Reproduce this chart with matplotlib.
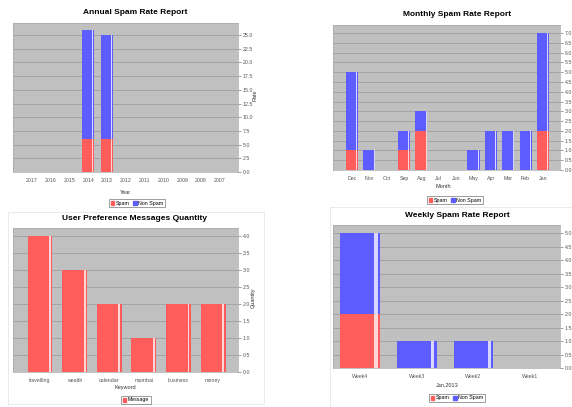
import matplotlib
matplotlib.use("Agg")
import matplotlib.pyplot as plt
from matplotlib.patches import Patch, Rectangle

plt.rcParams['font.family'] = ['Liberation Sans', 'DejaVu Sans']

W, H = 572, 407
RED = '#ff5c5c'
BLUE = '#5c5cff'
RED_LIGHT = '#ffd6d6'
BLUE_LIGHT = '#d6d6ff'

# annual report
years = ['2007', '2008', '2009', '2010', '2011', '2012', '2013', '2014', '2015', '2016', '2017']
annual_spam = [0, 0, 0, 0, 0, 0, 6, 6, 0, 0, 0]
annual_nonspam = [0, 0, 0, 0, 0, 0, 19, 20, 0, 0, 0]

# monthly report
months = ['Jan', 'Feb', 'Mar', 'Apr', 'May', 'Jun', 'Jul', 'Aug', 'Sep', 'Oct', 'Nov', 'Dec']
monthly_spam = [2, 0, 0, 0, 0, 0, 0, 2, 1, 0, 0, 1]
monthly_nonspam = [5, 2, 2, 2, 1, 0, 0, 1, 1, 0, 1, 4]

# weekly report
weeks = ['Week1', 'Week2', 'Week3', 'Week4']
weekly_spam = [0, 0, 0, 2]
weekly_nonspam = [0, 1, 1, 3]

# user preference
keywords = ['money', 'business', 'mumbai', 'calendar', 'wealth', 'travelling']
keyword_counts = [2, 2, 1, 2, 3, 4]

fig = plt.figure(figsize=(W / 100, H / 100), dpi=100)


def px_axes(l, t, r, b):
    ax = fig.add_axes([l / W, 1 - b / H, (r - l) / W, (b - t) / H])
    ax.set_facecolor('#c0c0c0')
    ax.yaxis.tick_right()
    ax.yaxis.set_label_position('right')
    ax.tick_params(axis='both', labelsize=3.8, colors='#555555', length=2, width=0.4, pad=1.5)
    ax.tick_params(axis='x', length=0, pad=4)
    ax.grid(axis='y', color='#999999', lw=0.5)
    ax.set_axisbelow(True)
    for s in ax.spines.values():
        s.set_color('#a8a8a8')
        s.set_linewidth(0.5)
    return ax


def stacked(ax, cats, layers, colors, lights, width, xlim, ylim, step):
    x = list(range(len(cats)))
    bottom = [0] * len(cats)
    for vals, c, lc in zip(layers, colors, lights):
        ax.bar(x, vals, width=width, bottom=bottom, color=c, zorder=2)
        for xi, v, b0 in zip(x, vals, bottom):
            if v > 0:
                ax.bar(xi - width / 2 + 0.07, v, width=0.055, bottom=b0, color=lc, zorder=3)
        bottom = [b0 + v for b0, v in zip(bottom, vals)]
    ax.set_xticks(x)
    ax.set_xticklabels(cats)
    ax.set_xlim(*xlim)
    ax.set_ylim(*ylim)
    n = int(round(ylim[1] // step)) + 1
    ticks = [i * step for i in range(n)]
    ax.set_yticks(ticks)
    ax.set_yticklabels(['%.1f' % t for t in ticks])


def legend(cx, cy, items):
    handles = [Patch(color=c, label=lab) for lab, c in items]
    lg = fig.legend(handles=handles, loc='center', bbox_to_anchor=(cx / W, 1 - cy / H),
                    fontsize=3.8, ncol=len(items), frameon=True, handlelength=0.7,
                    handleheight=0.7, handletextpad=0.3, columnspacing=0.6,
                    borderpad=0.35, fancybox=False)
    lg.get_frame().set_edgecolor('#555555')
    lg.get_frame().set_linewidth(0.5)


def title(cx, cy, s):
    fig.text(cx / W, 1 - cy / H, s, ha='center', va='center', fontsize=6, fontweight='bold')


def label(x, y, s, rot=0):
    fig.text(x / W, 1 - y / H, s, ha='center', va='center', fontsize=4, rotation=rot, color='#333333')


# faint panel frames
for (l, t, r, b) in [(8, 212, 264, 404), (330, 207, 572, 407)]:
    fig.add_artist(Rectangle((l / W, 1 - b / H), (r - l) / W, (b - t) / H, transform=fig.transFigure,
                             fill=False, edgecolor='#e6e6e6', lw=0.6))

# annual
ax = px_axes(13, 23, 238, 172)
stacked(ax, years, [annual_spam, annual_nonspam], [RED, BLUE], [RED_LIGHT, BLUE_LIGHT],
        0.64, (11.0, -0.96), (0, 27.2), 2.5)
title(135, 13, 'Annual Spam Rate Report')
label(125, 192, 'Year')
label(255, 95, 'Rate', 90)
legend(137, 203, [('Spam', RED), ('Non Spam', BLUE)])

# monthly
ax = px_axes(333, 25, 560, 170)
stacked(ax, months, [monthly_spam, monthly_nonspam], [RED, BLUE], [RED_LIGHT, BLUE_LIGHT],
        0.7, (12.09, -0.98), (0, 7.41), 0.5)
title(457, 15, 'Monthly Spam Rate Report')
label(443, 187, 'Month')
legend(455, 200, [('Spam', RED), ('Non Spam', BLUE)])

# user preference
ax = px_axes(13, 228, 238, 372)
stacked(ax, keywords, [keyword_counts], [RED], [RED_LIGHT],
        0.72, (5.78, -0.72), (0, 4.24), 0.5)
title(135, 218, 'User Preference Messages Quantity')
label(125, 388, 'Keyword')
label(253, 298, 'Quantity', 90)
legend(136, 400, [('Message', RED)])

# weekly
ax = px_axes(333, 225, 560, 368)
stacked(ax, weeks, [weekly_spam, weekly_nonspam], [RED, BLUE], [RED_LIGHT, BLUE_LIGHT],
        0.7, (3.48, -0.53), (0, 5.3), 0.5)
title(457, 216, 'Weekly Spam Rate Report')
label(447, 385, 'Jan,2013')
legend(457, 398, [('Spam', RED), ('Non Spam', BLUE)])

fig.savefig('out.png', dpi=100, facecolor='white')
